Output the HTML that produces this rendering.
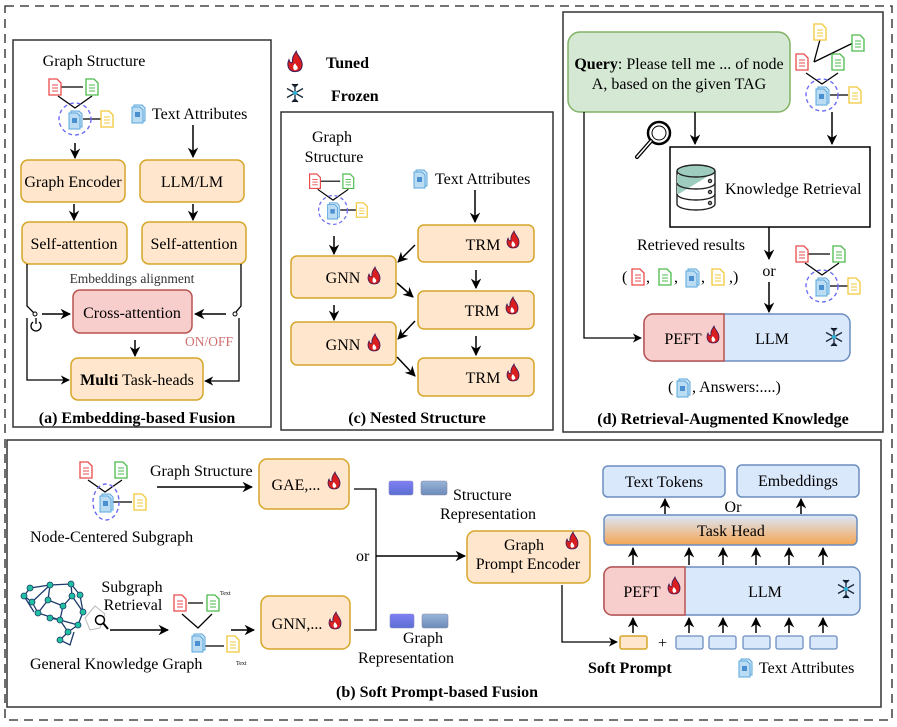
<!DOCTYPE html>
<html><head><meta charset="utf-8">
<style>
html,body{margin:0;padding:0;background:#fff;}
svg{display:block;font-family:"Liberation Serif",serif;}
</style></head>
<body>
<svg width="897" height="727" viewBox="0 0 897 727" xmlns="http://www.w3.org/2000/svg">
<defs>
<marker id="ar" viewBox="0 0 10 10" refX="9" refY="5" markerWidth="7" markerHeight="7" orient="auto-start-reverse"><path d="M0,0 L10,5 L0,10 L3,5 z" fill="#000"/></marker>
<linearGradient id="th" x1="0" y1="0" x2="0" y2="1"><stop offset="0" stop-color="#dae8fc"/><stop offset="1" stop-color="#f5a552"/></linearGradient>
<linearGradient id="bq" x1="0" y1="0" x2="0" y2="1"><stop offset="0" stop-color="#7f7ff5"/><stop offset="1" stop-color="#5a6fd0"/></linearGradient>
<linearGradient id="bq2" x1="0" y1="0" x2="0" y2="1"><stop offset="0" stop-color="#9ab4d8"/><stop offset="1" stop-color="#6a8ab8"/></linearGradient>
<g id="dr"><path d="M-6,-8 h8 l4,4 v12 h-12z" fill="#fff" stroke="#ea4b4b" stroke-width="1.3"/><path d="M-3,-2h6M-3,1h6M-3,4h6" stroke="#ea4b4b"/></g>
<g id="dg"><path d="M-6,-8 h8 l4,4 v12 h-12z" fill="#fff" stroke="#4cbb4c" stroke-width="1.3"/><path d="M-3,-2h6M-3,1h6M-3,4h6" stroke="#4cbb4c"/></g>
<g id="dy"><path d="M-6,-8 h8 l4,4 v12 h-12z" fill="#fff" stroke="#f2c83a" stroke-width="1.3"/><path d="M-3,-2h6M-3,1h6M-3,4h6" stroke="#f2c83a"/></g>
<g id="db"><path d="M-4,-8 h8 l3,3 v13 h-11z" fill="#cfe6f7" stroke="#5aa7dc" stroke-width="1"/><path d="M-6,-6 h8 l3,3 v13 h-11z" fill="#bcdcf4" stroke="#5aa7dc" stroke-width="1"/><rect x="-3" y="-1" width="5" height="5" fill="#4a90d0"/></g>
<g id="gi">
<path d="M-14,-32 h22 M-17,-23 L0,-11 L17,-23 M8,0 h20" stroke="#000" stroke-width="1.3" fill="none"/>
<circle r="16" fill="none" stroke="#6c6cf5" stroke-width="1.4" stroke-dasharray="4,3"/>
<use href="#dr" x="-20" y="-32"/><use href="#dg" x="17" y="-32"/><use href="#db" x="0" y="0"/><use href="#dy" x="32" y="0"/>
</g>
<g id="fl"><path d="M0,8 C-6,8 -7,2 -5,-2 C-4,1 -3,1 -2,0 C-3,-4 0,-7 1,-9 C2,-5 6,-3 6,2 C6,6 4,8 0,8z" fill="#d81e1e" stroke="#3a1a5a" stroke-width="0.8"/><path d="M0,7 C-2,6 -2,3 0,1 C1,3 3,4 2,6z" fill="#fff"/></g>
<g id="sf" stroke="#1a2a3a" stroke-width="1.3"><path d="M0,-9V9M-8,-4.5L8,4.5M-8,4.5L8,-4.5M-3,-9L0,-6L3,-9M-3,9L0,6L3,9"/><circle r="2" fill="#2ab3d6" stroke="none"/></g>
</defs>

<rect x="5" y="6" width="887" height="714" fill="none" stroke="#222" stroke-width="1.3" stroke-dasharray="9,6"/>

<!-- Panel a -->
<rect x="13" y="40" width="258" height="387" fill="#fff" stroke="#333" stroke-width="1.5"/>
<text x="94" y="66" font-size="16" text-anchor="middle">Graph Structure</text>
<use href="#gi" x="75" y="119"/>
<use href="#db" x="138" y="113"/>
<text x="152" y="119" font-size="16">Text Attributes</text>
<line x1="75" y1="143" x2="75" y2="158" stroke="#000" stroke-width="1.5" marker-end="url(#ar)"/>
<line x1="193" y1="125" x2="193" y2="157" stroke="#000" stroke-width="1.5" marker-end="url(#ar)"/>
<rect x="21" y="160" width="104" height="42" rx="7" fill="#ffe6cc" stroke="#d6a629" stroke-width="1.5"/>
<text x="73" y="187" font-size="16" text-anchor="middle">Graph Encoder</text>
<rect x="140" y="160" width="104" height="42" rx="7" fill="#ffe6cc" stroke="#d6a629" stroke-width="1.5"/>
<text x="192" y="187" font-size="16" text-anchor="middle">LLM/LM</text>
<line x1="74" y1="204" x2="74" y2="220" stroke="#000" stroke-width="1.5" marker-end="url(#ar)"/>
<line x1="193" y1="204" x2="193" y2="220" stroke="#000" stroke-width="1.5" marker-end="url(#ar)"/>
<rect x="22" y="222" width="105" height="42" rx="7" fill="#ffe6cc" stroke="#d6a629" stroke-width="1.5"/>
<text x="74" y="249" font-size="16" text-anchor="middle">Self-attention</text>
<rect x="142" y="222" width="104" height="42" rx="7" fill="#ffe6cc" stroke="#d6a629" stroke-width="1.5"/>
<text x="194" y="249" font-size="16" text-anchor="middle">Self-attention</text>
<text x="132" y="283" font-size="13.5" fill="#333" text-anchor="middle">Embeddings alignment</text>
<rect x="73" y="290" width="119" height="43" rx="7" fill="#f8cecc" stroke="#b85450" stroke-width="1.5"/>
<text x="132" y="318" font-size="16" text-anchor="middle">Cross-attention</text>
<text x="185" y="346" font-size="13.5" fill="#d07070">ON/OFF</text>
<rect x="71" y="358" width="132" height="42" rx="7" fill="#ffe6cc" stroke="#d6a629" stroke-width="1.5"/>
<text x="137" y="385" font-size="16" text-anchor="middle"><tspan font-weight="bold">Multi</tspan> Task-heads</text>
<path d="M27,264 V306 L34,313" stroke="#000" stroke-width="1.3" fill="none"/>
<circle cx="35" cy="314" r="2" fill="#fff" stroke="#000"/>
<line x1="42" y1="314" x2="70" y2="314" stroke="#000" stroke-width="1.5" marker-end="url(#ar)"/>
<path d="M27,318 V380 H69" stroke="#000" stroke-width="1.3" fill="none" marker-end="url(#ar)"/>
<path d="M33,322 a5,5 0 1 0 6,0 M36,318 v6" stroke="#000" stroke-width="1.3" fill="none"/>
<path d="M241,264 V306 L236,312" stroke="#000" stroke-width="1.3" fill="none"/>
<circle cx="235" cy="314" r="2" fill="#fff" stroke="#000"/>
<line x1="226" y1="314" x2="195" y2="314" stroke="#000" stroke-width="1.5" marker-end="url(#ar)"/>
<path d="M239,318 V381 H205" stroke="#000" stroke-width="1.3" fill="none" marker-end="url(#ar)"/>
<line x1="135" y1="340" x2="135" y2="356" stroke="#000" stroke-width="1.5" marker-end="url(#ar)"/>
<text x="137" y="423" font-size="16" font-weight="bold" text-anchor="middle">(a) Embedding-based Fusion</text>

<!-- legend -->
<use href="#fl" x="295" y="62" transform="translate(-59 -12.4) scale(1.2)"/>
<text x="326" y="68" font-size="16" font-weight="bold">Tuned</text>
<use href="#sf" x="295" y="93"/>
<text x="331" y="101" font-size="16" font-weight="bold">Frozen</text>

<!-- Panel c -->
<rect x="281" y="112" width="272" height="318" fill="#fff" stroke="#333" stroke-width="1.5"/>
<text x="332" y="142" font-size="16" text-anchor="middle">Graph</text>
<text x="334" y="162" font-size="16" text-anchor="middle">Structure</text>
<use href="#gi" x="333" y="210" transform="translate(33.3 21) scale(0.9)"/>
<use href="#db" x="420" y="178"/>
<text x="435" y="184" font-size="16">Text Attributes</text>
<line x1="334" y1="236" x2="334" y2="254" stroke="#000" stroke-width="1.5" marker-end="url(#ar)"/>
<line x1="475" y1="190" x2="475" y2="222" stroke="#000" stroke-width="1.5" marker-end="url(#ar)"/>
<g fill="#ffe6cc" stroke="#d6a629" stroke-width="1.5">
<rect x="418" y="225" width="116" height="37" rx="6"/>
<rect x="418" y="291" width="116" height="38" rx="6"/>
<rect x="418" y="358" width="116" height="38" rx="6"/>
<rect x="291" y="256" width="105" height="42" rx="6"/>
<rect x="291" y="322" width="105" height="43" rx="6"/>
</g>
<g font-size="16" text-anchor="middle">
<text x="483" y="250">TRM</text><text x="482" y="316">TRM</text><text x="483" y="383">TRM</text>
<text x="343" y="283">GNN</text><text x="343" y="350">GNN</text>
</g>
<use href="#fl" x="513" y="240"/><use href="#fl" x="512" y="306"/><use href="#fl" x="513" y="373"/>
<use href="#fl" x="374" y="276"/><use href="#fl" x="374" y="343"/>
<g stroke="#000" stroke-width="1.5" marker-end="url(#ar)">
<line x1="415" y1="245" x2="398" y2="262"/>
<line x1="397" y1="283" x2="413" y2="297"/>
<line x1="415" y1="321" x2="398" y2="339"/>
<line x1="397" y1="357" x2="415" y2="376"/>
<line x1="334" y1="305" x2="334" y2="320"/>
<line x1="476" y1="270" x2="476" y2="288"/>
<line x1="476" y1="336" x2="476" y2="355"/>
</g>
<text x="417" y="423" font-size="16" font-weight="bold" text-anchor="middle">(c) Nested Structure</text>

<!-- Panel d -->
<rect x="563" y="12" width="320" height="420" fill="#fff" stroke="#333" stroke-width="1.5"/>
<rect x="568" y="32" width="222" height="80" rx="12" fill="#d5e8d4" stroke="#82b366" stroke-width="1.5"/>
<text x="679" y="69" font-size="16" text-anchor="middle"><tspan font-weight="bold">Query</tspan>: Please tell me ... of node</text>
<text x="679" y="89" font-size="16" text-anchor="middle">A, based on the given TAG</text>
<path d="M814,62 L822,32 M814,62 L853,43 M806,73 L822,84 L838,73" stroke="#000" stroke-width="1.3" fill="none"/>
<line x1="830" y1="95" x2="848" y2="95" stroke="#000" stroke-width="1.3"/>
<circle cx="822" cy="95" r="16" fill="none" stroke="#6c6cf5" stroke-width="1.4" stroke-dasharray="4,3"/>
<use href="#dy" x="820" y="32"/><use href="#dg" x="858" y="43"/><use href="#dr" x="802" y="62"/><use href="#dg" x="838" y="62"/><use href="#db" x="822" y="95"/><use href="#dy" x="855" y="95"/>
<circle cx="659" cy="133" r="11" fill="#fff" stroke="#000" stroke-width="2.5"/>
<circle cx="659" cy="133" r="7" fill="none" stroke="#000" stroke-width="1"/>
<line x1="651" y1="141" x2="637" y2="157" stroke="#000" stroke-width="4" stroke-linecap="round"/>
<line x1="651" y1="141" x2="637" y2="157" stroke="#fff" stroke-width="1.5" stroke-linecap="round"/>
<line x1="695" y1="112" x2="695" y2="144" stroke="#000" stroke-width="1.5" marker-end="url(#ar)"/>
<line x1="832" y1="112" x2="832" y2="144" stroke="#000" stroke-width="1.5" marker-end="url(#ar)"/>
<rect x="670" y="147" width="200" height="80" fill="#fff" stroke="#000" stroke-width="1.5"/>
<g stroke="#222" stroke-width="1.4">
<path d="M677,171 V204 a19,6 0 0 0 38,0 V171" fill="#fff"/>
<path d="M677,175 V195 L710,175z" fill="#9ecdbf" stroke="none"/>
<ellipse cx="696" cy="171" rx="19" ry="6" fill="#9ecdbf"/>
<path d="M677,183 a19,6 0 0 0 38,0 M677,194 a19,6 0 0 0 38,0" fill="none"/>
<circle cx="710" cy="181" r="1.5" fill="none"/><circle cx="710" cy="192" r="1.5" fill="none"/><circle cx="710" cy="203" r="1.5" fill="none"/>
</g>
<text x="725" y="194" font-size="16">Knowledge Retrieval</text>
<text x="637" y="250" font-size="16">Retrieved results</text>
<text x="622" y="282" font-size="16">(</text><use href="#dr" x="638" y="277"/><text x="646" y="282" font-size="16">,</text>
<use href="#dg" x="665" y="277"/><text x="674" y="282" font-size="16">,</text>
<use href="#db" x="692" y="277"/><text x="701" y="282" font-size="16">,</text>
<use href="#dy" x="718" y="277"/><text x="729" y="282" font-size="16">,)</text>
<line x1="769" y1="227" x2="769" y2="259" stroke="#000" stroke-width="1.5" marker-end="url(#ar)"/>
<text x="769" y="276" font-size="16" text-anchor="middle">or</text>
<line x1="769" y1="282" x2="769" y2="312" stroke="#000" stroke-width="1.5" marker-end="url(#ar)"/>
<use href="#gi" x="822" y="286"/>
<rect x="644" y="314" width="206" height="47" rx="9" fill="#dae8fc" stroke="#6c8ebf" stroke-width="1.5"/>
<path d="M724,314 H653 a9,9 0 0 0 -9,9 V352 a9,9 0 0 0 9,9 H724z" fill="#f8cecc" stroke="#b85450" stroke-width="1.5"/>
<text x="683" y="344" font-size="16" text-anchor="middle">PEFT</text>
<use href="#fl" x="713" y="335"/>
<text x="772" y="344" font-size="16" text-anchor="middle">LLM</text>
<use href="#sf" x="834" y="337"/>
<path d="M584,112 V338 H641" stroke="#000" stroke-width="1.3" fill="none" marker-end="url(#ar)"/>
<text x="668" y="392" font-size="16">(</text><use href="#db" x="683" y="387"/><text x="692" y="392" font-size="16">, Answers:....)</text>
<text x="723" y="424" font-size="16" font-weight="bold" text-anchor="middle">(d) Retrieval-Augmented Knowledge</text>

<!-- Panel b -->
<rect x="7" y="440" width="874" height="267" fill="#fff" stroke="#333" stroke-width="1.5"/>
<path d="M88,480 L105,492 L122,480 M112,502 h20" stroke="#000" stroke-width="1.3" fill="none"/>
<ellipse cx="106" cy="502" rx="13" ry="18" fill="none" stroke="#6c6cf5" stroke-width="1.4" stroke-dasharray="4,3"/>
<use href="#dr" x="86" y="470"/><use href="#dg" x="121" y="470"/><use href="#db" x="106" y="502"/><use href="#dy" x="140" y="502"/>
<text x="150" y="476" font-size="16">Graph Structure</text>
<line x1="157" y1="487" x2="252" y2="487" stroke="#000" stroke-width="1.5" marker-end="url(#ar)"/>
<text x="30" y="542" font-size="16">Node-Centered Subgraph</text>
<rect x="259" y="459" width="90" height="50" rx="8" fill="#ffe6cc" stroke="#d6a629" stroke-width="1.5"/>
<text x="296" y="490" font-size="16" text-anchor="middle">GAE,...</text>
<use href="#fl" x="334" y="481"/>
<g stroke="#1a3a6a" stroke-width="1.3" fill="none">
<path d="M32,602 L50,585 L71,584 L80,595 L83,612 L78,625 L68,632 L60,640 L70,645 L74,632 M32,602 L38,613 L60,620 L78,625 M50,585 L48,600 L63,606 L72,596 L71,584 M48,600 L38,613 M63,606 L60,620 L50,618 M72,596 L83,612 M60,620 L68,632 M24,596 L32,602 M50,585 L30,588 L24,596 L34,612"/>
</g>
<g fill="#20c0a0" stroke="#1a3a6a" stroke-width="0.8">
<circle cx="32" cy="602" r="3"/><circle cx="50" cy="585" r="3"/><circle cx="71" cy="584" r="3"/><circle cx="80" cy="595" r="3"/><circle cx="83" cy="612" r="3"/><circle cx="78" cy="625" r="3"/><circle cx="68" cy="632" r="3"/><circle cx="48" cy="600" r="3"/><circle cx="63" cy="606" r="3"/><circle cx="72" cy="596" r="3"/><circle cx="60" cy="620" r="3"/><circle cx="38" cy="613" r="3"/><circle cx="30" cy="588" r="3"/><circle cx="24" cy="596" r="3"/><circle cx="50" cy="618" r="3"/><circle cx="60" cy="640" r="3"/>
</g>
<g stroke="#bbb" fill="none"><path d="M85,618 L95,606 L105,614 L100,628 L90,630z"/></g>
<circle cx="100" cy="620" r="4.5" fill="#fff" stroke="#000" stroke-width="1.5"/><line x1="103" y1="623" x2="108" y2="629" stroke="#000" stroke-width="2"/>
<text x="132" y="592" font-size="16" text-anchor="middle">Subgraph</text>
<text x="133" y="610" font-size="16" text-anchor="middle">Retrieval</text>
<line x1="110" y1="630" x2="168" y2="630" stroke="#000" stroke-width="1.5" marker-end="url(#ar)"/>
<path d="M188,603 h15 M182,614 L198,628 L212,614 M205,646 h19" stroke="#000" stroke-width="1.3" fill="none"/>
<use href="#dr" x="180" y="603"/><use href="#dg" x="213" y="603"/><use href="#db" x="198" y="642"/><use href="#dy" x="233" y="644"/>
<text x="220" y="595" font-size="6">Text</text><text x="236" y="665" font-size="6">Text</text>
<text x="30" y="669" font-size="16">General Knowledge Graph</text>
<line x1="231" y1="630" x2="254" y2="630" stroke="#000" stroke-width="1.5" marker-end="url(#ar)"/>
<rect x="261" y="596" width="89" height="53" rx="8" fill="#ffe6cc" stroke="#d6a629" stroke-width="1.5"/>
<text x="297" y="629" font-size="16" text-anchor="middle">GNN,...</text>
<use href="#fl" x="335" y="621"/>
<path d="M354,489 H376 V630 H354" stroke="#000" stroke-width="1.3" fill="none"/>
<line x1="376" y1="556" x2="465" y2="556" stroke="#000" stroke-width="1.5" marker-end="url(#ar)"/>
<text x="356" y="561" font-size="16">or</text>
<rect x="389" y="481" width="24" height="14" rx="2" fill="url(#bq)" stroke="#8888cc" stroke-width="0.6"/>
<rect x="421" y="481" width="26" height="14" rx="2" fill="url(#bq2)" stroke="#88a" stroke-width="0.6"/>
<text x="453" y="500" font-size="16">Structure</text>
<text x="440" y="519" font-size="16">Representation</text>
<rect x="390" y="614" width="24" height="14" rx="2" fill="url(#bq)" stroke="#8888cc" stroke-width="0.6"/>
<rect x="422" y="614" width="26" height="14" rx="2" fill="url(#bq2)" stroke="#88a" stroke-width="0.6"/>
<text x="403" y="643" font-size="16">Graph</text>
<text x="358" y="663" font-size="16">Representation</text>
<rect x="467" y="531" width="123" height="52" rx="8" fill="#ffe6cc" stroke="#d6a629" stroke-width="1.5"/>
<text x="524" y="550" font-size="16" text-anchor="middle">Graph</text>
<text x="528" y="569" font-size="16" text-anchor="middle">Prompt Encoder</text>
<use href="#fl" x="572" y="541"/>
<path d="M562,585 V642 H617" stroke="#000" stroke-width="1.3" fill="none" marker-end="url(#ar)"/>
<rect x="603" y="466" width="122" height="31" rx="5" fill="#dae8fc" stroke="#6c8ebf" stroke-width="1.5"/>
<text x="664" y="487" font-size="16" text-anchor="middle">Text Tokens</text>
<rect x="737" y="465" width="122" height="32" rx="5" fill="#dae8fc" stroke="#6c8ebf" stroke-width="1.5"/>
<text x="798" y="486" font-size="16" text-anchor="middle">Embeddings</text>
<text x="733" y="512" font-size="16" text-anchor="middle">Or</text>
<rect x="604" y="515" width="253" height="30" rx="5" fill="url(#th)" stroke="#6c8ebf" stroke-width="1.5"/>
<text x="731" y="536" font-size="16" text-anchor="middle">Task Head</text>
<rect x="604" y="567" width="256" height="48" rx="8" fill="#dae8fc" stroke="#6c8ebf" stroke-width="1.5"/>
<path d="M685,567 H612 a8,8 0 0 0 -8,8 V607 a8,8 0 0 0 8,8 H685z" fill="#f8cecc" stroke="#b85450" stroke-width="1.5"/>
<text x="642" y="597" font-size="16" text-anchor="middle">PEFT</text>
<use href="#fl" x="674" y="586"/>
<text x="765" y="597" font-size="16" text-anchor="middle">LLM</text>
<use href="#sf" x="846" y="589"/>
<rect x="620" y="636" width="27" height="13" rx="2" fill="#ffe6cc" stroke="#d6a629" stroke-width="1.5"/>
<text x="658" y="648" font-size="16">+</text>
<g fill="#dae8fc" stroke="#6c8ebf" stroke-width="1.3">
<rect x="676" y="636" width="27" height="13" rx="2"/><rect x="709" y="636" width="27" height="13" rx="2"/><rect x="743" y="636" width="27" height="13" rx="2"/><rect x="776" y="636" width="27" height="13" rx="2"/><rect x="810" y="636" width="27" height="13" rx="2"/>
</g>
<g stroke="#000" stroke-width="1.5" marker-end="url(#ar)">
<line x1="633" y1="633" x2="633" y2="618"/><line x1="689" y1="633" x2="689" y2="618"/><line x1="723" y1="633" x2="723" y2="618"/><line x1="756" y1="633" x2="756" y2="618"/><line x1="789" y1="633" x2="789" y2="618"/><line x1="823" y1="633" x2="823" y2="618"/>
<line x1="633" y1="565" x2="633" y2="548"/><line x1="689" y1="565" x2="689" y2="548"/><line x1="723" y1="565" x2="723" y2="548"/><line x1="756" y1="565" x2="756" y2="548"/><line x1="789" y1="565" x2="789" y2="548"/><line x1="823" y1="565" x2="823" y2="548"/>
<line x1="665" y1="514" x2="665" y2="499"/><line x1="801" y1="514" x2="801" y2="499"/>
</g>
<text x="588" y="673" font-size="16" font-weight="bold">Soft Prompt</text>
<use href="#db" x="745" y="667"/>
<text x="759" y="673" font-size="16">Text Attributes</text>
<text x="437" y="697" font-size="16" font-weight="bold" text-anchor="middle">(b) Soft Prompt-based Fusion</text>
</svg>
</body></html>
